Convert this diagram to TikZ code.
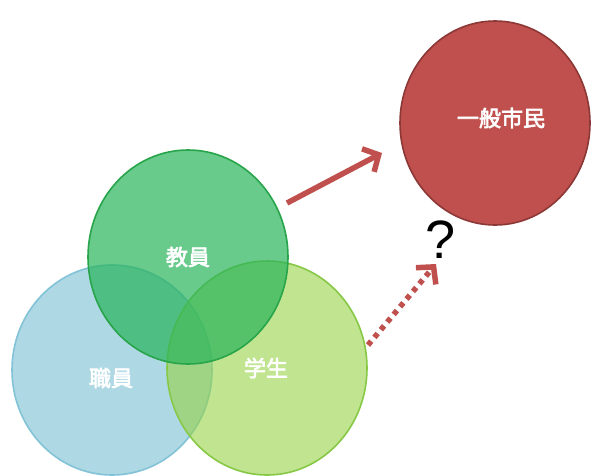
\documentclass[tikz,border=0pt]{standalone}
\usepackage{fontspec}
\newfontfamily\cjk[FakeBold=3]{Noto Sans CJK JP}
\newfontfamily\qfont{Liberation Sans}
\usetikzlibrary{arrows.meta}
\definecolor{kyoin}{RGB}{40,180,90}
\definecolor{kyoinb}{RGB}{40,165,75}
\definecolor{shokuin}{RGB}{120,190,210}
\definecolor{shokuinb}{RGB}{130,195,215}
\definecolor{gakusei}{RGB}{150,210,70}
\definecolor{gakuseib}{RGB}{135,200,70}
\definecolor{shimin}{RGB}{192,80,77}
\definecolor{shiminb}{RGB}{140,56,54}
\tikzset{
  blob/.style={ellipse, minimum width=#1, inner sep=0pt, line width=1.6pt},
  lbl/.style={text=white, font=\cjk\fontsize{22}{22}\selectfont},
  arr/.style={draw=shimin, line width=5.5pt, -{Straight Barb[length=12pt,width=26pt]}}
}
\usetikzlibrary{shapes.geometric}
\begin{document}
\begin{tikzpicture}[x=1pt,y=-1pt]
\useasboundingbox (0,0) rectangle (593,475);
\fill[white] (0,0) rectangle (593,475);
% 職員
\node[blob=200pt, minimum height=210pt, fill=shokuin, fill opacity=0.6, draw=shokuinb] (shokuin) at (112,370) {};
% 学生
\node[blob=200pt, minimum height=214pt, fill=gakusei, fill opacity=0.6, draw=gakuseib] (gakusei) at (267,368) {};
% 教員
\node[blob=200pt, minimum height=214pt, fill=kyoin, fill opacity=0.7, draw=kyoinb] (kyoin) at (188,257) {};
% 一般市民
\node[blob=190pt, minimum height=204pt, fill=shimin, draw=shiminb] (shimin) at (495,123) {};
\node[lbl] (t1) at (188,257) {教員};
\node[lbl] (t2) at (111,378) {職員};
\node[lbl] (t3) at (266,368) {学生};
\node[lbl] (t4) at (501,118) {一般市民};
\node[font=\qfont\fontsize{54}{54}\selectfont] (q) at (441,240) {?};
\coordinate (a1s) at (287,203);
\coordinate (a1e) at (382,153);
\coordinate (a2s) at (368,345);
\coordinate (a2e) at (436,264);
\draw[arr] (a1s) -- (a1e);
\draw[arr, dash pattern=on 5pt off 5pt] (a2s) -- (a2e);
\end{tikzpicture}
\end{document}
